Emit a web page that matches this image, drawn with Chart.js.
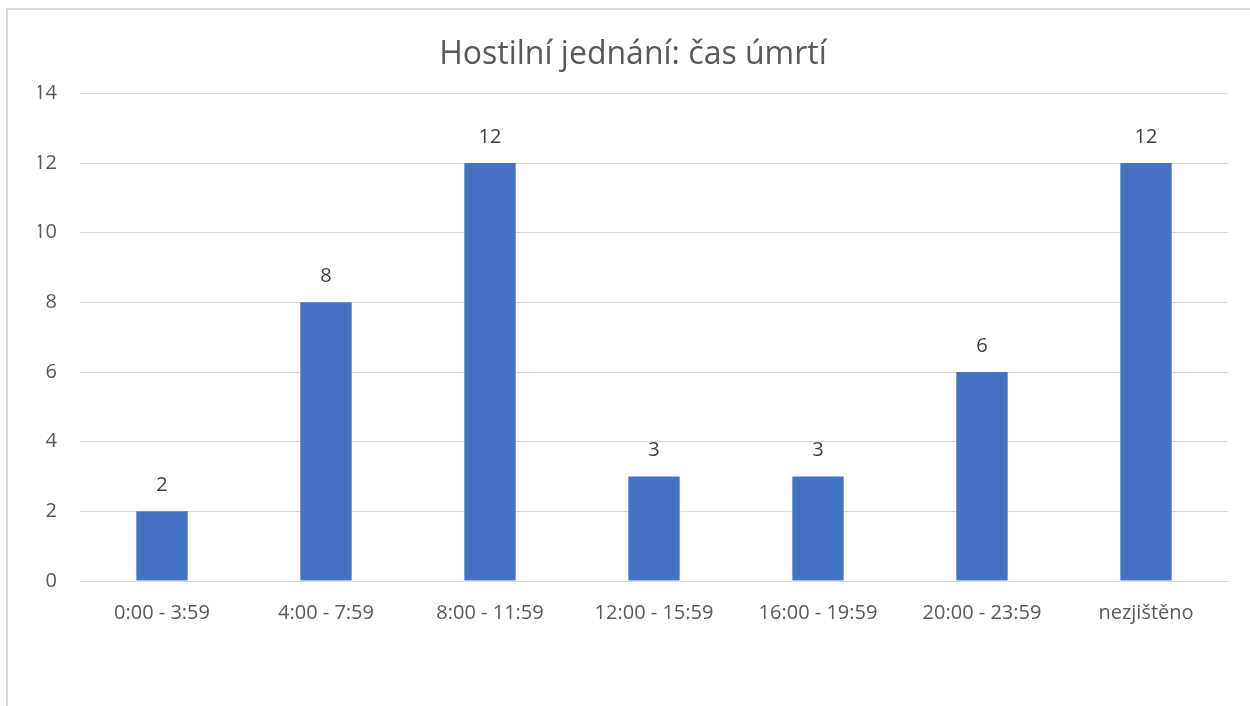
<!DOCTYPE html>
<html>
<head>
<meta charset="utf-8">
<script src="https://cdn.jsdelivr.net/npm/chart.js@4.4.1/dist/chart.umd.min.js"></script>
<style>
  html, body { margin: 0; padding: 0; background: #fff; overflow: hidden; }
  #frame {
    position: absolute; left: 6px; top: 8px; width: 1300px; height: 760px;
    border: 2px solid #d9d9d9; box-sizing: border-box;
  }
  #wrap { position: absolute; left: 0; top: 0; width: 1250px; height: 706px; }
</style>
</head>
<body>
<div id="frame"></div>
<div id="wrap"><canvas id="chart"></canvas></div>
<script>
const categories = ['0:00 - 3:59', '4:00 - 7:59', '8:00 - 11:59', '12:00 - 15:59', '16:00 - 19:59', '20:00 - 23:59', 'nezjištěno'];
const deaths = [2, 8, 12, 3, 3, 6, 12];
const titleText = 'Hostilní jednání: čas úmrtí';
const FONT = '"Open Sans", "Noto Sans", sans-serif';

// draws the value above each bar, like Excel data labels
const valueLabels = {
  id: 'valueLabels',
  afterDatasetsDraw(chart) {
    const ctx = chart.ctx;
    const meta = chart.getDatasetMeta(0);
    ctx.save();
    ctx.font = '20px ' + FONT;
    ctx.fillStyle = '#404040';
    ctx.textAlign = 'center';
    ctx.textBaseline = 'middle';
    meta.data.forEach((bar, i) => {
      ctx.fillText(String(deaths[i]), bar.x, bar.y - 26);
    });
    ctx.restore();
  }
};

new Chart(document.getElementById('chart'), {
  type: 'bar',
  data: {
    labels: categories,
    datasets: [{
      data: deaths,
      backgroundColor: '#4472c4',
      borderWidth: 0,
      categoryPercentage: 1,
      barPercentage: 0.313
    }]
  },
  options: {
    responsive: true,
    maintainAspectRatio: false,
    animation: false,
    layout: { padding: { left: 38, right: 22, top: 0, bottom: 0 } },
    scales: {
      x: {
        grid: { display: false, drawTicks: false },
        border: { color: '#d9d9d9', width: 1 },
        ticks: { color: '#595959', font: { family: FONT, size: 20 }, padding: 20, maxRotation: 0 },
        afterFit(scale) { scale.height = 125; }
      },
      y: {
        min: 0,
        max: 14,
        ticks: { stepSize: 2, color: '#595959', font: { family: FONT, size: 20 }, padding: 23 },
        grid: { color: '#d9d9d9', lineWidth: 1, drawTicks: false },
        border: { display: false },
        afterFit(scale) { scale.width = 42; }
      }
    },
    plugins: {
      legend: { display: false },
      tooltip: { enabled: false },
      title: {
        display: true,
        text: titleText,
        color: '#595959',
        font: { family: FONT, size: 32, weight: 'normal', lineHeight: 1.2 },
        padding: { top: 36, bottom: 19 }
      }
    }
  },
  plugins: [valueLabels]
});
</script>
</body>
</html>
